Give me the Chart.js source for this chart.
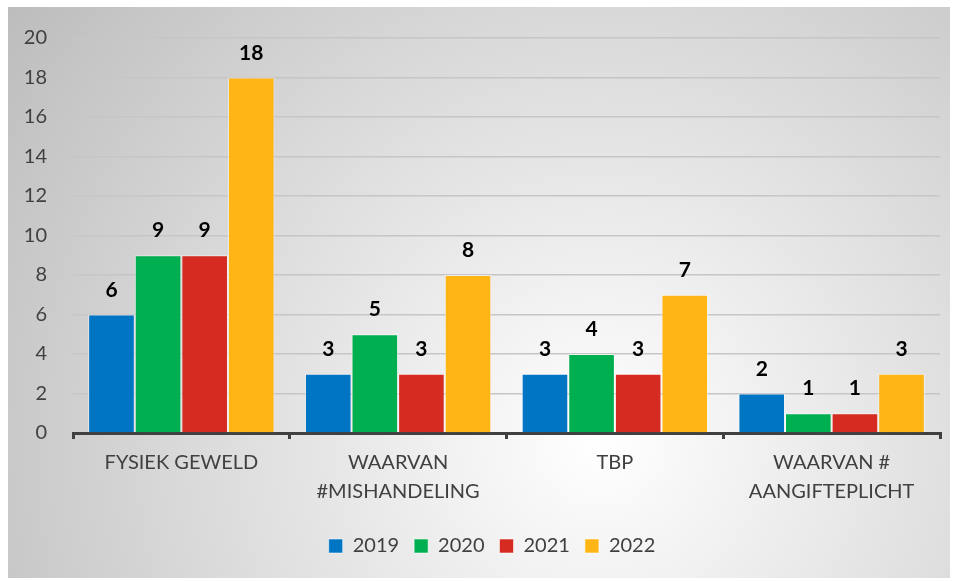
<!DOCTYPE html>
<html>
<head>
<meta charset="utf-8">
<script src="https://cdn.jsdelivr.net/npm/chart.js@4/dist/chart.umd.min.js"></script>
<style>
html, body { margin: 0; padding: 0; background: #fff; }
#wrap { width: 959px; height: 581px; }
</style>
</head>
<body>
<div id="wrap"><canvas id="chart"></canvas></div>
<script>
const categories = [
    "FYSIEK GEWELD",
    ["WAARVAN", "#MISHANDELING"],
    "TBP",
    ["WAARVAN #", "AANGIFTEPLICHT"],
];
const years = ["2019", "2020", "2021", "2022"];
const values2019 = [6, 3, 3, 2];
const values2020 = [9, 5, 4, 1];
const values2021 = [9, 3, 3, 1];
const values2022 = [18, 8, 7, 3];
const colors = ["#0075c4", "#00b050", "#d62b20", "#ffb514"];

const FONT = "Lato, 'Open Sans', sans-serif";

// grey panel with a soft light spot, like the office chart style
const panelBackground = {
    id: "panelBackground",
    beforeDraw(chart) {
        const ctx = chart.ctx;
        ctx.save();
        ctx.fillStyle = "#fff";
        ctx.fillRect(0, 0, chart.width, chart.height);
        const g = ctx.createRadialGradient(600, 440, 0, 600, 440, 740);
        g.addColorStop(0, "#ffffff");
        g.addColorStop(1, "#bcbcbc");
        ctx.fillStyle = g;
        ctx.fillRect(8, 7, 942, 571);
        ctx.restore();
    },
};

// value on top of each bar
const valueLabels = {
    id: "valueLabels",
    afterDatasetsDraw(chart) {
        const ctx = chart.ctx;
        ctx.save();
        ctx.font = "bold 21px " + FONT;
        ctx.fillStyle = "#000";
        ctx.textAlign = "center";
        ctx.textBaseline = "alphabetic";
        chart.data.datasets.forEach((ds, i) => {
            chart.getDatasetMeta(i).data.forEach((bar, j) => {
                ctx.fillText(ds.data[j], bar.x, bar.y - 18);
            });
        });
        ctx.restore();
    },
};

// legend in the original sits a little right of centre
const legendShift = {
    id: "legendShift",
    afterLayout(chart) {
        if (chart.legend) {
            chart.legend.left += 12;
            chart.legend.right += 12;
        }
    },
};

const series = [values2019, values2020, values2021, values2022];

const data = {
    labels: categories,
    datasets: years.map((y, i) => ({
        label: y,
        data: series[i],
        backgroundColor: colors[i],
        borderColor: "rgba(255,255,255,0.55)",
        borderWidth: 1,
        barPercentage: 1,
        categoryPercentage: 0.86,
    })),
};

const config = {
    type: "bar",
    data: data,
    options: {
        responsive: true,
        maintainAspectRatio: false,
        animation: false,
        devicePixelRatio: 1,
        layout: {
            padding: {left: 20, right: 19, top: 28, bottom: 15},
        },
        plugins: {
            legend: {
                position: "bottom",
                labels: {
                    boxWidth: 14,
                    boxHeight: 14,
                    padding: 15,
                    color: "#404040",
                    font: {family: FONT, size: 20},
                },
            },
            tooltip: {enabled: false},
        },
        scales: {
            x: {
                grid: {
                    display: true,
                    drawOnChartArea: false,
                    offset: true,
                    tickLength: 6,
                    color: "#404040",
                    lineWidth: 3,
                },
                border: {color: "#404040", width: 3},
                ticks: {
                    color: "#404040",
                    padding: 9,
                    maxRotation: 0,
                    font: {family: FONT, size: 20, lineHeight: 1.45},
                },
                afterFit: (scale) => {
                    scale.height += 6;
                },
            },
            y: {
                min: 0,
                max: 20,
                ticks: {
                    stepSize: 2,
                    color: "#404040",
                    padding: 26,
                    font: {family: FONT, size: 20},
                },
                grid: {color: "#c6c6c6", lineWidth: 1.5, drawTicks: false},
                border: {display: false},
                afterFit: (scale) => {
                    scale.width = 53;
                },
            },
        },
    },
    plugins: [panelBackground, valueLabels, legendShift],
};

new Chart(document.getElementById("chart"), config);
</script>
</body>
</html>
